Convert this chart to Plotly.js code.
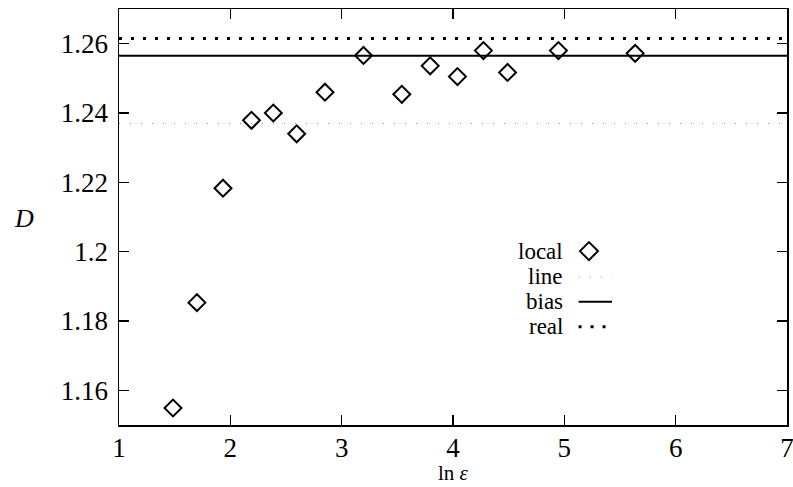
<!DOCTYPE html>
<html>
<head>
<meta charset="utf-8">
<script src="https://cdn.plot.ly/plotly-3.0.1.min.js"></script>
<style>html,body{margin:0;padding:0;background:#fff}#chart{width:793px;height:487px}</style>
</head>
<body>
<div id="chart"></div>
<script>
// Local dimension estimates D vs ln(epsilon)
const lnEps = [1.485, 1.70, 1.934, 2.19, 2.386, 2.596, 2.85, 3.196, 3.54, 3.795, 4.04, 4.273, 4.49, 4.947, 5.636];
const localD = [1.1549, 1.1853, 1.2183, 1.2379, 1.2400, 1.2340, 1.2460, 1.2566, 1.2454, 1.2536, 1.2505, 1.2580, 1.2517, 1.2580, 1.2572];
const lineX = [1, 7];
const lineD = [1.237, 1.237];
const biasD = [1.2565, 1.2565];
const realD = [1.2615, 1.2615];
const yTickVals = [1.16, 1.18, 1.2, 1.22, 1.24, 1.26];
const yTickText = ["1.16", "1.18", "1.2", "1.22", "1.24", "1.26"];
const xTickVals = [1, 2, 3, 4, 5, 6, 7];
const legendNames = ["local", "line", "bias", "real"];

const FONT = "Liberation Serif";

const traces = [
  {x: lineX, y: lineD, mode: "lines", name: "line", line: {color: "#888", width: 1, dash: "1px,10px"}, showlegend: false, hoverinfo: "skip"},
  {x: lineX, y: biasD, mode: "lines", name: "bias", line: {color: "#000", width: 2}, showlegend: false},
  {x: lineX, y: realD, mode: "lines", name: "real", line: {color: "#000", width: 3, dash: "3px,9px"}, showlegend: false},
  {x: lnEps, y: localD, mode: "markers", name: "local", marker: {symbol: "diamond-open", size: 13, color: "#000", line: {width: 2, color: "#000"}}, showlegend: false}
];

// manual legend (text on left, sample on right)
const legY = [0.418, 0.356, 0.296, 0.236];
const textX = 0.668, s0 = 0.688, s1 = 0.738, dCx = 0.7035;
const annotations = legendNames.map((n, i) => ({
  xref: "paper", yref: "paper", x: textX, y: legY[i], text: n, showarrow: false,
  xanchor: "right", yanchor: "middle", font: {family: FONT, size: 23, color: "#000"}
}));
annotations.push({xref: "paper", yref: "paper", x: -0.142, y: 0.497, text: "<i>D</i>", showarrow: false,
  xanchor: "center", yanchor: "middle", font: {family: FONT, size: 26, color: "#000"}});
annotations.push({xref: "paper", yref: "paper", x: 0.5, y: -0.148, text: "ln <i>ε</i>", showarrow: false,
  xanchor: "center", yanchor: "bottom", font: {family: FONT, size: 21, color: "#000"}});

const dx = 9 / 668, dy = 9 / 416;
const shapes = [
  {type: "path", xref: "paper", yref: "paper",
   path: `M ${dCx - dx} ${legY[0]} L ${dCx} ${legY[0] + dy} L ${dCx + dx} ${legY[0]} L ${dCx} ${legY[0] - dy} Z`,
   line: {color: "#000", width: 2}},
  {type: "line", xref: "paper", yref: "paper", x0: s0, x1: s1, y0: legY[1], y1: legY[1], line: {color: "#888", width: 1, dash: "1px,10px"}},
  {type: "line", xref: "paper", yref: "paper", x0: s0, x1: s1, y0: legY[2], y1: legY[2], line: {color: "#000", width: 2}},
  {type: "line", xref: "paper", yref: "paper", x0: s0, x1: s1, y0: legY[3], y1: legY[3], line: {color: "#000", width: 3, dash: "3px,9px"}}
];

const layout = {
  width: 793, height: 487,
  margin: {l: 119, r: 6, t: 9, b: 62},
  paper_bgcolor: "#fff", plot_bgcolor: "#fff",
  font: {family: FONT, color: "#000", size: 24},
  showlegend: false,
  xaxis: {
    range: [1, 7], tickvals: xTickVals, ticks: "inside", ticklen: 10, tickwidth: 1.2, tickcolor: "#000",
    showline: true, linecolor: "#000", linewidth: 1.5, mirror: "ticks", showgrid: false, zeroline: false,
    tickfont: {family: FONT, size: 27}, ticklabelstandoff: -2, ticklabeloverflow: "allow"
  },
  yaxis: {
    range: [1.15, 1.27], tickvals: yTickVals, ticktext: yTickText, ticks: "inside", ticklen: 10, tickwidth: 1.2, tickcolor: "#000",
    showline: true, linecolor: "#000", linewidth: 1.5, mirror: "ticks", showgrid: false, zeroline: false,
    tickfont: {family: FONT, size: 27}, ticklabelstandoff: 4
  },
  annotations: annotations,
  shapes: shapes
};

Plotly.newPlot("chart", traces, layout, {displayModeBar: false, staticPlot: true});
</script>
</body>
</html>
